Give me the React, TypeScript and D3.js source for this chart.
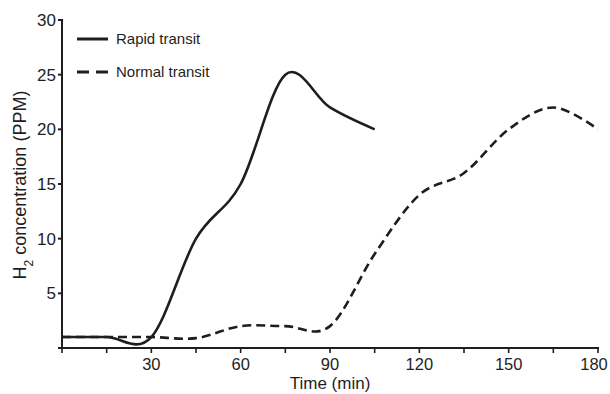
import React, { useEffect, useRef } from "react";
import * as d3 from "d3";

// Data (15-min sampling)
const rapidTimes = [0, 15, 30, 45, 60, 75, 90, 105];
const rapidValues = [1, 1, 1, 10, 15, 25, 22, 20];
const normalTimes = [0, 15, 30, 45, 60, 75, 90, 105, 120, 135, 150, 165, 180];
const normalValues = [1, 1, 1, 0.9, 2, 2, 2, 8.6, 14, 16, 20, 22, 20];

const xTicks = [0, 15, 30, 45, 60, 75, 90, 105, 120, 135, 150, 165, 180];
const xTickLabels = [30, 60, 90, 120, 150, 180];
const yTicks = [0, 5, 10, 15, 20, 25, 30];
const yTickLabels = [5, 10, 15, 20, 25, 30];

const INK = "#1e1e1e";
const FONT = "'Liberation Sans', Arial, sans-serif";

const App: React.FC = () => {
    const svgRef = useRef<SVGSVGElement | null>(null);

    useEffect(() => {
        if (!svgRef.current) return;
        const svg = d3.select(svgRef.current);
        svg.selectAll("*").remove();

        const x = d3.scaleLinear().domain([0, 180]).range([62, 598]);
        const y = d3.scaleLinear().domain([0, 30]).range([348, 20]);

        const g = svg.append("g").style("font-family", FONT).attr("fill", INK);

        // Axes lines
        g.append("line")
            .attr("x1", x(0)).attr("x2", x(0))
            .attr("y1", y(30) - 1).attr("y2", y(0) + 1)
            .attr("stroke", INK).attr("stroke-width", 2);
        g.append("line")
            .attr("x1", x(0) - 1).attr("x2", x(180) + 1)
            .attr("y1", y(0)).attr("y2", y(0))
            .attr("stroke", INK).attr("stroke-width", 2);

        // Y ticks
        g.selectAll(".ytick")
            .data(yTicks)
            .enter()
            .append("line")
            .attr("x1", x(0) - 4).attr("x2", x(0))
            .attr("y1", (d) => y(d)).attr("y2", (d) => y(d))
            .attr("stroke", INK).attr("stroke-width", 2);
        g.selectAll(".ylab")
            .data(yTickLabels)
            .enter()
            .append("text")
            .attr("x", x(0) - 6)
            .attr("y", (d) => y(d))
            .attr("dy", "0.35em")
            .attr("text-anchor", "end")
            .style("font-size", "17px")
            .text((d) => d);

        // X ticks
        g.selectAll(".xtick")
            .data(xTicks)
            .enter()
            .append("line")
            .attr("x1", (d) => x(d)).attr("x2", (d) => x(d))
            .attr("y1", y(0)).attr("y2", y(0) + 5)
            .attr("stroke", INK).attr("stroke-width", 1.6);
        g.selectAll(".xlab")
            .data(xTickLabels)
            .enter()
            .append("text")
            .attr("x", (d) => Math.min(x(d), 594))
            .attr("y", 370)
            .attr("text-anchor", "middle")
            .style("font-size", "16.5px")
            .text((d) => d);

        // Axis titles
        g.append("text")
            .attr("x", 330).attr("y", 389)
            .attr("text-anchor", "middle")
            .style("font-size", "17px")
            .text("Time (min)");

        const yt = g.append("text")
            .attr("transform", "translate(26,185) rotate(-90)")
            .attr("text-anchor", "middle")
            .style("font-size", "18px");
        yt.append("tspan").text("H");
        yt.append("tspan").attr("baseline-shift", "sub").style("font-size", "12px").text("2");
        yt.append("tspan").text(" concentration (PPM)");

        // Lines
        const line = d3
            .line<[number, number]>()
            .x((d) => x(d[0]))
            .y((d) => y(d[1]))
            .curve(d3.curveCardinal.tension(0));

        const rapid = rapidTimes.map((t, i) => [t, rapidValues[i]] as [number, number]);
        const normal = normalTimes.map((t, i) => [t, normalValues[i]] as [number, number]);

        g.append("path")
            .attr("d", line(normal))
            .attr("fill", "none")
            .attr("stroke", INK)
            .attr("stroke-width", 2.6)
            .attr("stroke-dasharray", "9,5");
        g.append("path")
            .attr("d", line(rapid))
            .attr("fill", "none")
            .attr("stroke", INK)
            .attr("stroke-width", 2.6);

        // Legend
        g.append("line")
            .attr("x1", 77).attr("x2", 108).attr("y1", 39).attr("y2", 39)
            .attr("stroke", INK).attr("stroke-width", 3);
        g.append("text")
            .attr("x", 116).attr("y", 39).attr("dy", "0.35em")
            .style("font-size", "15px")
            .text("Rapid transit");
        g.append("line")
            .attr("x1", 77).attr("x2", 108).attr("y1", 72).attr("y2", 72)
            .attr("stroke", INK).attr("stroke-width", 3)
            .attr("stroke-dasharray", "12,7");
        g.append("text")
            .attr("x", 116).attr("y", 72).attr("dy", "0.35em")
            .style("font-size", "15px")
            .text("Normal transit");
    }, []);

    return (
        <svg
            ref={svgRef}
            width={610}
            height={394}
            style={{ position: "absolute", left: 0, top: 0, background: "#fff" }}
        />
    );
};

export default App;
